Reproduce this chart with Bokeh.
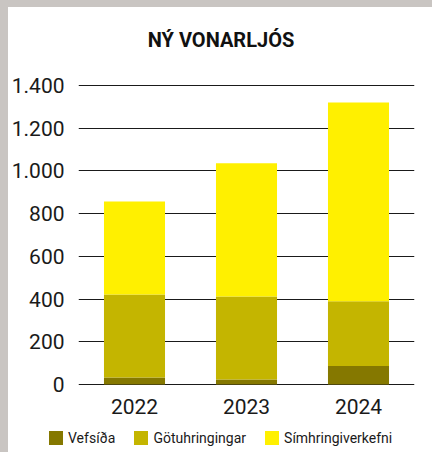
from bokeh.plotting import figure
from bokeh.models import (FactorRange, Range1d, FixedTicker, CustomJSTickFormatter,
                          Label, Spacer, Div)
from bokeh.layouts import column, row
from bokeh.embed import file_html
from bokeh.resources import INLINE

years = ["2022", "2023", "2024"]
vefsida = [33, 23, 86]
gotuhringingar = [388, 389, 304]
simhringiverkefni = [436, 624, 930]
series_names = ["Vefsíða", "Götuhringingar", "Símhringiverkefni"]
colors = ["#857800", "#c4b500", "#fff000"]
y_ticks = [0, 200, 400, 600, 800, 1000, 1200, 1400]
title_text = "NÝ VONARLJÓS"

FONT = "Roboto"
GRAY = "#c9c5c2"
TEXT = "#1a1a1a"

data = dict(years=years, v=vefsida, g=gotuhringingar, s=simhringiverkefni)

# main chart (y range extended upward so the title fits inside the frame)
p = figure(width=424, height=418, x_range=FactorRange(*years, range_padding=0.0),
           y_range=Range1d(-4.7, 1718), output_backend="svg", toolbar_location=None,
           min_border_left=69, min_border_right=18, min_border_top=10, min_border_bottom=40)
p.outline_line_color = None
p.background_fill_color = "white"
p.border_fill_color = "white"

rs = p.vbar_stack(["v", "g", "s"], x="years", width=0.545, source=data,
                  color=colors, line_color=None)

p.xgrid.grid_line_color = None
p.ygrid.grid_line_color = TEXT
p.ygrid.grid_line_width = 1
p.ygrid.ticker = FixedTicker(ticks=y_ticks)

p.yaxis.ticker = FixedTicker(ticks=y_ticks)
p.yaxis.formatter = CustomJSTickFormatter(
    code="return Math.round(tick).toString().replace(/\\B(?=(\\d{3})+(?!\\d))/g, '.');")
for ax in (p.xaxis[0], p.yaxis[0]):
    ax.axis_line_color = None
    ax.major_tick_line_color = None
    ax.minor_tick_line_color = None
    ax.major_tick_out = 0
    ax.major_tick_in = 0
    ax.minor_tick_out = 0
    ax.major_label_text_font = FONT
    ax.major_label_text_font_size = "21px"
    ax.major_label_text_color = TEXT
p.yaxis.major_label_standoff = 14
p.xaxis.major_label_standoff = 13

p.add_layout(Label(x=1.5, y=1400, x_offset=-25.5, y_offset=45, text=title_text,
                   text_align="center", text_baseline="alphabetic",
                   text_font=FONT, text_font_style="bold", text_font_size="20px",
                   text_color="#111111"))

# legend strip
item_html = "".join(
    f"<span style='display:flex;align-items:center;'>"
    f"<span style='display:inline-block;width:14px;height:14px;background:{c};"
    f"margin-right:5px;'></span>{n}</span>"
    for n, c in zip(series_names, colors))
legend_div = Div(
    width=424, height=27,
    text=("<div style='display:flex;align-items:center;gap:19px;padding-left:36px;"
          f"padding-top:1px;height:14px;font-family:{FONT};font-size:14px;"
          f"line-height:14px;color:{TEXT};white-space:nowrap;'>" + item_html + "</div>"),
    styles={"background-color": "white"})

top = Spacer(width=432, height=7, styles={"background-color": GRAY})
left = Spacer(width=8, height=445, styles={"background-color": GRAY})
layout = column(top, row(left, column(p, legend_div, spacing=0), spacing=0), spacing=0)

open("out.html", "w").write(file_html(layout, INLINE))
